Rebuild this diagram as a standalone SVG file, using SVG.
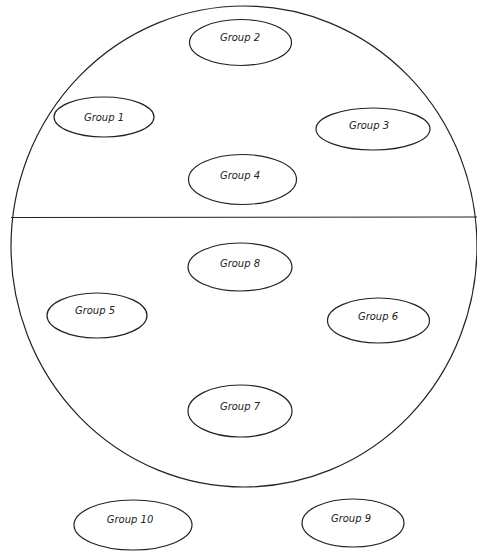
<svg xmlns="http://www.w3.org/2000/svg" width="477" height="552" viewBox="0 0 477 552">
<style>
.o{fill:none;stroke:#222;stroke-width:1.2}
.n ellipse{fill:#fff;stroke:#222;stroke-width:1.2}
.n text{font-family:"DejaVu Sans",Verdana,sans-serif;font-style:italic;font-size:10px;fill:#222;text-anchor:middle;dominant-baseline:central}
</style>
<rect width="477" height="552" fill="#fff"/>
<g id="frame">
<ellipse class="o" cx="244" cy="246.5" rx="233" ry="240.5"/>
<line class="o" x1="11" y1="217.5" x2="477" y2="217"/>
</g>
<g id="connectors"></g>
<g id="group2" class="n"><ellipse cx="240.5" cy="42.5" rx="51" ry="23"/><text x="240" y="37.5">Group 2</text></g>
<g id="group1" class="n"><ellipse cx="104" cy="117" rx="50" ry="20"/><text x="104" y="117">Group 1</text></g>
<g id="group3" class="n"><ellipse cx="373" cy="129" rx="57" ry="21"/><text x="369" y="125">Group 3</text></g>
<g id="group4" class="n"><ellipse cx="242.5" cy="179.5" rx="54" ry="25"/><text x="240" y="175">Group 4</text></g>
<g id="group8" class="n"><ellipse cx="240" cy="267" rx="52" ry="24"/><text x="240" y="263">Group 8</text></g>
<g id="group5" class="n"><ellipse cx="97" cy="315.5" rx="50" ry="22.5"/><text x="95" y="310">Group 5</text></g>
<g id="group6" class="n"><ellipse cx="378.5" cy="320.5" rx="51" ry="22.5"/><text x="378" y="316">Group 6</text></g>
<g id="group7" class="n"><ellipse cx="240" cy="411" rx="52" ry="26"/><text x="240" y="406">Group 7</text></g>
<g id="group10" class="n"><ellipse cx="133" cy="525" rx="59" ry="25"/><text x="130" y="519">Group 10</text></g>
<g id="group9" class="n"><ellipse cx="353" cy="523" rx="51" ry="24"/><text x="351" y="518">Group 9</text></g>
</svg>
